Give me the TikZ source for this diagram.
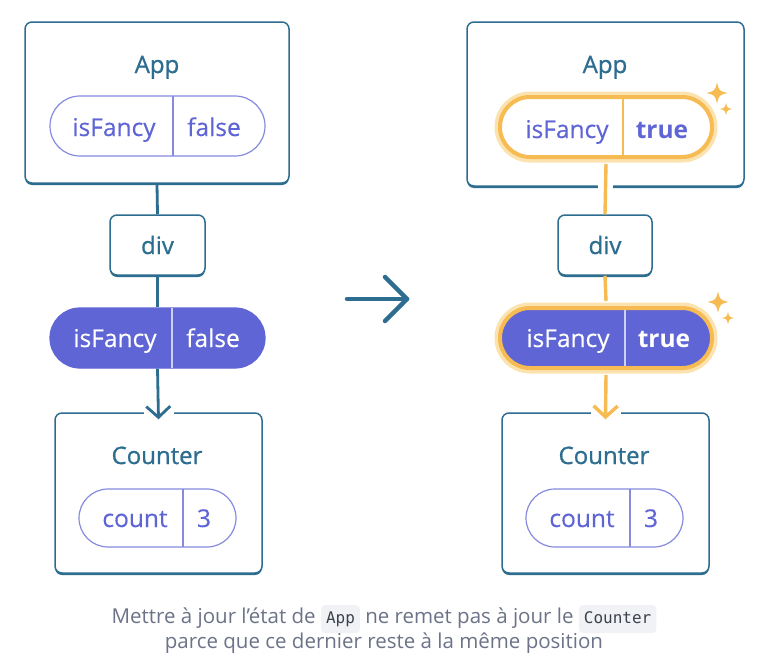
\documentclass[tikz,border=0pt]{standalone}
\usepackage{fontspec}
\setmainfont{Open Sans}
\newfontfamily\medfont[FakeBold=0.9]{Open Sans}
\newfontfamily\keyfont[FakeBold=0.35]{Open Sans}
\newfontfamily\codefont{DejaVu Sans Mono}
\usetikzlibrary{shapes.misc,arrows.meta,shadows}
\definecolor{tealc}{HTML}{2D6D90}
\definecolor{purp}{HTML}{5F65D5}
\definecolor{purpline}{HTML}{878BDF}
\definecolor{gold}{HTML}{F6BB52}
\definecolor{goldglow}{HTML}{FCE2AE}
\definecolor{capc}{HTML}{6C7388}
\definecolor{codebg}{HTML}{F1F2F5}
\definecolor{codetxt}{HTML}{3C414C}
\definecolor{divw}{HTML}{CDD0F4}
\newcommand\codebx[1]{\tikz[baseline=(cb.base)]\node[fill=codebg, rounded corners=4pt, inner xsep=5pt, inner ysep=6.5pt, text height=11.5pt, text depth=3.5pt, text=codetxt] (cb) {\codefont\fontsize{16}{16}\selectfont #1};}
\begin{document}
\begin{tikzpicture}[x=1pt,y=-1pt,
 comp/.style={draw=tealc, line width=1.5pt, rounded corners=7pt, fill=white, general shadow={fill=tealc, shadow yshift=-2pt}, inner sep=0pt},
 pillout/.style={rounded rectangle, draw=purpline, line width=1.2pt, fill=white, inner sep=0pt, minimum height=60pt},
 pillfill/.style={rounded rectangle, draw=purp, fill=purp, line width=1.2pt, inner sep=0pt, minimum height=60pt},
 glow/.style={preaction={draw=goldglow, line width=11pt}, draw=gold, line width=4pt},
 title/.style={text=tealc, font=\medfont\fontsize{24}{24}\selectfont, anchor=base, inner sep=0pt},
 keyt/.style={text=purp, font=\keyfont\fontsize{24.5}{24.5}\selectfont, anchor=base, inner sep=0pt},
 keyw/.style={keyt, text=white},
 valb/.style={keyt, font=\fontsize{24.5}{24.5}\selectfont\bfseries},
 valbw/.style={valb, text=white},
 divp/.style={draw=purpline, line width=1.2pt},
 divg/.style={draw=gold, line width=1.6pt},
 divwl/.style={draw=divw, line width=1.4pt},
 connt/.style={draw=tealc, line width=2.8pt},
 conng/.style={draw=gold, line width=3.4pt},
 tipt/.style={-{Straight Barb[length=11pt, width=24pt, line width=2.8pt]}},
 bigarrow/.style={draw=tealc, line width=4.5pt, line cap=round, line join=round},
 capt/.style={text=capc, font=\fontsize{20.5}{20.5}\selectfont, anchor=base, inner sep=0pt},
 pics/sparkle/.style={code={\fill[gold] (0,-1) .. controls (0.2,-0.2) .. (1,0) .. controls (0.2,0.2) .. (0,1) .. controls (-0.2,0.2) .. (-1,0) .. controls (-0.2,-0.2) .. (0,-1) -- cycle;}}
]
\fill[white] (0,0) rectangle (772,672);
\useasboundingbox (0,0) rectangle (772,672);

% ---------- left tree ----------
\node[comp, minimum width=264pt, minimum height=161pt] (appL) at (157,102.5) {};
\node[comp, minimum width=95pt, minimum height=60pt] (divL) at (157.5,245) {};
\node[comp, minimum width=207pt, minimum height=160pt] (cntL) at (158.5,493) {};

\fill[white] ([xshift=-15pt,yshift=-2.5pt]cntL.north) rectangle ([xshift=15pt,yshift=2.5pt]cntL.north);

\node[pillfill, minimum width=215pt] (pillL) at (157.5,338) {};
\draw[connt] (appL.south) -- (divL.north);
\draw[connt] (divL.south) -- (pillL.north);
\draw[connt, tipt] (pillL.south) -- ([yshift=-7pt]cntL.north);

\node[title] (tAppL) at (157,73) {App};
\node[pillout, minimum width=215pt] (pillAL) at (157.5,126) {};
\draw[divp] (173,96) -- (173,156);
\node[keyt] (kAL) at (114,136) {isFancy};
\node[keyt] (vAL) at (214,136) {false};

\node[title] (tDivL) at (157.5,254) {div};

\draw[divwl] (172,308) -- (172,368);
\node[keyw] (kL) at (115,347) {isFancy};
\node[keyw] (vL) at (213,347) {false};

\node[title] (tCntL) at (157,464) {Counter};
\node[pillout, minimum width=157pt, minimum height=58pt] (pillCL) at (157.5,518) {};
\draw[divp] (183,489) -- (183,547);
\node[keyt] (kCL) at (135,527) {count};
\node[keyt] (vCL) at (204,527) {3};

% ---------- middle arrow ----------
\coordinate (arA) at (347,299);
\coordinate (arB) at (407,299);
\coordinate (arU) at (385,277);
\coordinate (arD) at (385,321);
\draw[bigarrow] (arA) -- (arB);
\draw[bigarrow] (arU) -- (arB) -- (arD);

% ---------- right tree ----------
\node[comp, minimum width=277pt, minimum height=164pt] (appR) at (605.5,104) {};
\node[comp, minimum width=94pt, minimum height=60pt] (divR) at (605,245) {};
\node[comp, minimum width=207pt, minimum height=160pt] (cntR) at (605.5,493) {};

\fill[white] ([xshift=-7.5pt,yshift=-4.5pt]appR.south) rectangle ([xshift=7.5pt,yshift=2pt]appR.south);
\fill[white] ([xshift=-15pt,yshift=-2.5pt]cntR.north) rectangle ([xshift=15pt,yshift=2.5pt]cntR.north);

\node[title] (tAppR) at (605,73) {App};
\node[pillout, glow, fill=white, minimum width=212pt] (pillAR) at (606,127) {};
\node[pillfill, glow, fill=purp, minimum width=212pt] (pillR) at (606,338) {};

\draw[conng] ([yshift=-5pt]pillAR.south) -- (divR.north);
\draw[conng] (divR.south) -- ([yshift=5pt]pillR.north);
\draw[conng, -{Straight Barb[length=11pt, width=24pt, line width=3.4pt]}] ([yshift=-5pt]pillR.south) -- ([yshift=-7pt]cntR.north);

\draw[divg] (623,99) -- (623,155);
\node[keyt] (kAR) at (567,138) {isFancy};
\node[valb] (vAR) at (662,138) {true};
\pic[scale=10.5] at (717,93) {sparkle};
\pic[scale=6] at (726,109) {sparkle};

\node[title] (tDivR) at (605,254) {div};

\draw[divwl] (625,310) -- (625,366);
\node[keyw] (kR) at (568,347) {isFancy};
\node[valbw] (vR) at (664,347) {true};
\pic[scale=10.5] at (718,302) {sparkle};
\pic[scale=6] at (728,318) {sparkle};

\node[title] (tCntR) at (604,464) {Counter};
\node[pillout, minimum width=157pt, minimum height=58pt] (pillCR) at (604.5,518) {};
\draw[divp] (630,489) -- (630,547);
\node[keyt] (kCR) at (582,527) {count};
\node[keyt] (vCR) at (651,527) {3};

% ---------- caption ----------
\node[capt] (capA) at (384,623) {Mettre à jour l’état de \codebx{App} ne remet pas à jour le \codebx{Counter}};
\node[capt] (capB) at (384,648) {parce que ce dernier reste à la même position};
\end{tikzpicture}
\end{document}
